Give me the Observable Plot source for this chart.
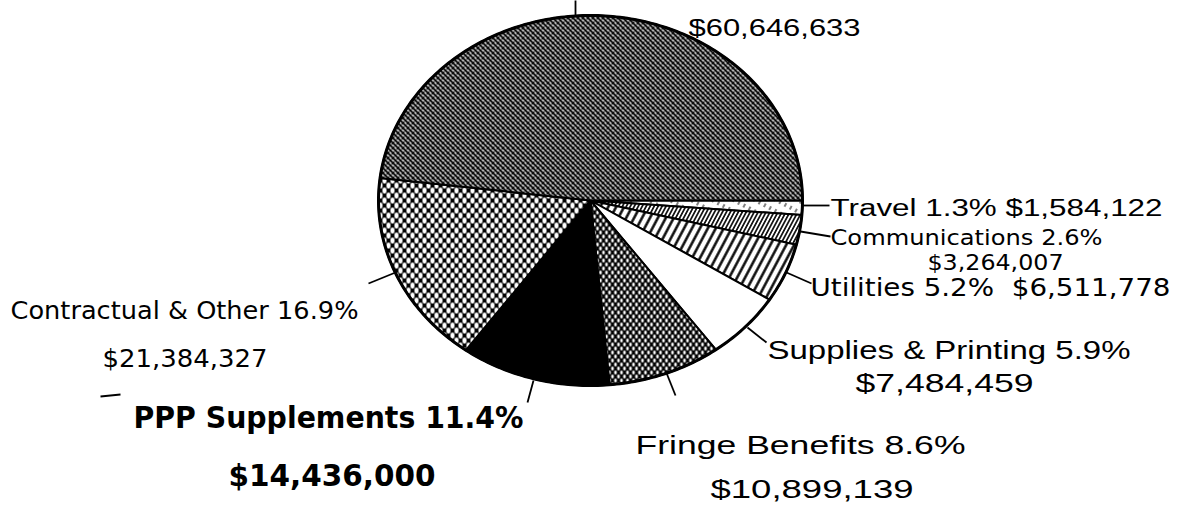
<!DOCTYPE html>
<html><head><meta charset="utf-8">
<script src="https://cdn.jsdelivr.net/npm/d3@7"></script>
<script src="https://cdn.jsdelivr.net/npm/@observablehq/plot@0.6"></script>
<style>html,body{margin:0;padding:0;background:#fff;overflow:hidden}</style>
</head><body><div id="chart"></div>
<script>
// ---- data ----
const categories = ["Travel","Communications","Utilities","Supplies & Printing","Fringe Benefits","PPP Supplements","Contractual & Other","Salaries"];
const amounts = [1584122, 3264007, 6511778, 7484459, 10899139, 14436000, 21384327, 60646633];
const percents = ["1.3%","2.6%","5.2%","5.9%","8.6%","11.4%","16.9%","48.1%"];

// ---- styling / layout ----
const W = 1179, H = 507, CX = 590, CY = 200, RX = 212, RY = 185;
const toU = px => (px - CX) / RX;
const toV = py => (CY - py) / RY;
const sliceFill = ["url(#pTra)","url(#pCom)","url(#pUtl)","white","url(#pFri)","black","url(#pCon)","url(#pSal)"];
const fmt = d3.format("$,");
const nameText = i => categories[i] + " " + percents[i];
const amtText = i => fmt(amounts[i]);
const fonts = {
  thin: {family: "Liberation Sans", weight: 400},
  med: {family: "DejaVu Sans", weight: 400},
  bold: {family: "DejaVu Sans", weight: 700}
};
const labelLayout = [
  {t: () => amtText(7), x: 688, y: 35, w: 172, size: 24, style: "thin"},
  {t: () => nameText(0) + " " + amtText(0), x: 830, y: 215, w: 332, size: 23, style: "thin"},
  {t: () => nameText(1), x: 830, y: 244, w: 272, size: 22, style: "med"},
  {t: () => amtText(1), x: 927, y: 269, w: 136, size: 22, style: "med"},
  {t: () => nameText(2) + "\u00a0\u00a0" + amtText(2), x: 810, y: 295, w: 360, size: 25, style: "med"},
  {t: () => nameText(3), x: 767, y: 358, w: 363, size: 25, style: "thin"},
  {t: () => amtText(3), x: 855, y: 391, w: 178, size: 25, style: "thin"},
  {t: () => nameText(4), x: 635, y: 453, w: 330, size: 26, style: "thin"},
  {t: () => amtText(4), x: 710, y: 497, w: 203, size: 25, style: "thin"},
  {t: () => nameText(5), x: 133, y: 427, w: 390, size: 31, style: "bold"},
  {t: () => amtText(5), x: 228, y: 485, w: 207, size: 30, style: "bold"},
  {t: () => nameText(6), x: 10, y: 318, w: 348, size: 25, style: "med"},
  {t: () => amtText(6), x: 102, y: 366, w: 165, size: 25, style: "med"}
];
const leaders = [
  [575, 0, 575, 15], [802, 205, 829, 205], [800, 231, 830, 236], [786, 272, 811, 283],
  [747, 327, 766, 342], [665, 370, 675, 395], [533, 380, 527, 402], [368, 283, 395, 272],
  [100, 396, 120, 394]
].map(([x1, y1, x2, y2]) => ({x1: toU(x1), y1: toV(y1), x2: toU(x2), y2: toV(y2)}));

// ---- pie geometry from data ----
const arcs = d3.pie().sort(null).value(d => d)
  .startAngle(Math.PI / 2).endAngle(Math.PI / 2 + 2 * Math.PI)(amounts);
const slices = arcs.map(a => {
  const n = Math.max(4, Math.ceil((a.endAngle - a.startAngle) / (2 * Math.PI) * 360));
  const pts = [{u: 0, v: 0}];
  for (let k = 0; k <= n; k++) {
    const t = a.startAngle + (a.endAngle - a.startAngle) * k / n;
    pts.push({u: Math.sin(t), v: Math.cos(t)});
  }
  pts.push({u: 0, v: 0});
  return pts;
});
const rim = d3.range(0, 361).map(k => ({u: Math.sin(k * Math.PI / 180), v: Math.cos(k * Math.PI / 180)}));

const marks = [
  ...slices.map((pts, i) => Plot.line(pts, {x: "u", y: "v", fill: sliceFill[i], stroke: "black", strokeWidth: 2, strokeLinejoin: "round"})),
  Plot.line(rim, {x: "u", y: "v", stroke: "black", strokeWidth: 3}),
  Plot.link(leaders, {x1: "x1", y1: "y1", x2: "x2", y2: "y2", stroke: "black", strokeWidth: 1.8}),
  ...labelLayout.map(l => Plot.text([l], {
    x: d => toU(d.x), y: d => toV(d.y), text: d => d.t(),
    textAnchor: "start", lineAnchor: "bottom", fontSize: l.size,
    fontFamily: fonts[l.style].family, fontWeight: fonts[l.style].weight, fill: "black"
  }))
];

const svg = Plot.plot({
  width: W, height: H, margin: 0,
  x: {domain: [toU(0), toU(W)], axis: null},
  y: {domain: [toV(H), toV(0)], axis: null},
  style: {background: "white"},
  marks
});

d3.select(svg).insert("defs", ":first-child").html(`
<pattern id="pSal" patternUnits="userSpaceOnUse" width="5" height="5">
  <rect width="5" height="5" fill="white"/>
  <path d="M-1,-1L6,6M-1,4L1,6M4,-1L6,1" stroke="black" stroke-width="2.1"/>
  <path d="M-1,6L6,-1M-1,1L1,-1M4,6L6,4" stroke="black" stroke-width="1.0"/>
</pattern>
<pattern id="pCon" patternUnits="userSpaceOnUse" width="8" height="10">
  <rect width="8" height="10" fill="black"/>
  <ellipse cx="0" cy="0" rx="2.1" ry="3.1" fill="white"/>
  <ellipse cx="8" cy="0" rx="2.1" ry="3.1" fill="white"/>
  <ellipse cx="0" cy="10" rx="2.1" ry="3.1" fill="white"/>
  <ellipse cx="8" cy="10" rx="2.1" ry="3.1" fill="white"/>
  <ellipse cx="4" cy="5" rx="2.1" ry="3.1" fill="white"/>
</pattern>
<pattern id="pFri" patternUnits="userSpaceOnUse" width="6" height="8">
  <rect width="6" height="8" fill="black"/>
  <ellipse cx="0" cy="0" rx="1.4" ry="2.1" fill="white"/>
  <ellipse cx="6" cy="0" rx="1.4" ry="2.1" fill="white"/>
  <ellipse cx="0" cy="8" rx="1.4" ry="2.1" fill="white"/>
  <ellipse cx="6" cy="8" rx="1.4" ry="2.1" fill="white"/>
  <ellipse cx="3" cy="4" rx="1.4" ry="2.1" fill="white"/>
</pattern>
<pattern id="pUtl" patternUnits="userSpaceOnUse" width="7" height="10" patternTransform="rotate(28)">
  <rect width="7" height="10" fill="white"/>
  <line x1="3.5" y1="0" x2="3.5" y2="10" stroke="black" stroke-width="2.4"/>
</pattern>
<pattern id="pCom" patternUnits="userSpaceOnUse" width="3.5" height="10" patternTransform="rotate(28)">
  <rect width="3.5" height="10" fill="white"/>
  <line x1="1.75" y1="0" x2="1.75" y2="10" stroke="black" stroke-width="1.6"/>
</pattern>
<pattern id="pTra" patternUnits="userSpaceOnUse" width="6" height="10" patternTransform="rotate(28)">
  <rect width="6" height="10" fill="white"/>
  <line x1="3" y1="0" x2="3" y2="4" stroke="black" stroke-width="1"/>
</pattern>`);

// fit each label to its measured width
const texts = svg.querySelectorAll("text");
labelLayout.forEach((l, i) => {
  if (texts[i]) { texts[i].setAttribute("textLength", l.w); texts[i].setAttribute("lengthAdjust", "spacingAndGlyphs"); }
});
document.getElementById("chart").appendChild(svg);
</script>
</body></html>
